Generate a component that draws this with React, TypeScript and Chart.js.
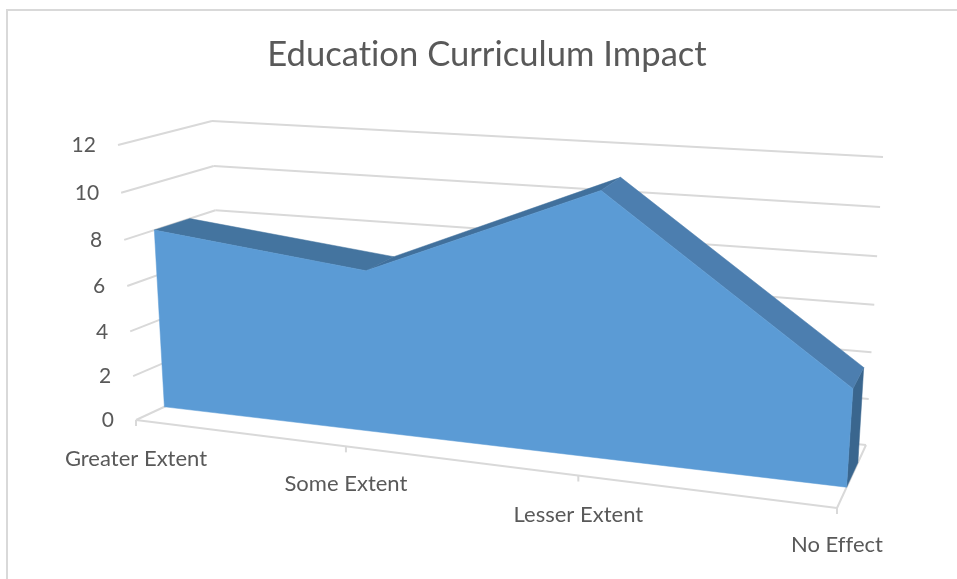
import React, { useEffect, useRef } from "react";
import { Chart, registerables } from "chart.js";

Chart.register(...registerables);

const categories = ["Greater Extent", "Some Extent", "Lesser Extent", "No Effect"];
const curriculumImpact = [8, 7, 11, 4];
const valueTicks = [0, 2, 4, 6, 8, 10, 12];

type Pt = { x: number; y: number };

// Screen corners of the 3D box the chart is projected into.
const BOX = {
  floorFrontLeft: { x: 136, y: 420 },
  floorFrontRight: { x: 837, y: 508 },
  floorBackLeft: { x: 222, y: 380 },
  floorBackRight: { x: 866, y: 445 },
  topFrontLeft: { x: 118, y: 145 },
  topFrontRight: { x: 858, y: 193 },
  topBackLeft: { x: 212, y: 121 },
  topBackRight: { x: 883, y: 157 },
};
const PERSPECTIVE_U = 0.855;
const PERSPECTIVE_V = 0.95;
const AREA_FRONT = 0.33;
const AREA_BACK = 0.72;
const CATEGORY_LABEL_DROP = [39, 38, 39, 37];

const mix = (a: Pt, b: Pt, t: number): Pt => ({ x: a.x + (b.x - a.x) * t, y: a.y + (b.y - a.y) * t });
const warp = (t: number, a: number) => (a * t) / (1 + (a - 1) * t);

// u runs along the categories, v up the value axis, w from front to back (all 0..1).
function project(u: number, v: number, w: number): Pt {
  const s = warp(u, PERSPECTIVE_U);
  const h = warp(v, PERSPECTIVE_V);
  const floor = mix(
    mix(BOX.floorFrontLeft, BOX.floorFrontRight, s),
    mix(BOX.floorBackLeft, BOX.floorBackRight, s),
    w
  );
  const top = mix(
    mix(BOX.topFrontLeft, BOX.topFrontRight, s),
    mix(BOX.topBackLeft, BOX.topBackRight, s),
    w
  );
  return mix(floor, top, h);
}

function polygon(ctx: CanvasRenderingContext2D, pts: Pt[], fill: string) {
  ctx.beginPath();
  pts.forEach((p, i) => (i ? ctx.lineTo(p.x, p.y) : ctx.moveTo(p.x, p.y)));
  ctx.closePath();
  ctx.fillStyle = fill;
  ctx.fill();
  ctx.strokeStyle = fill;
  ctx.lineWidth = 0.5;
  ctx.stroke();
}

function segment(ctx: CanvasRenderingContext2D, a: Pt, b: Pt) {
  ctx.beginPath();
  ctx.moveTo(a.x, a.y);
  ctx.lineTo(b.x, b.y);
  ctx.stroke();
}

const VALUE_FONT = '21px Lato, "Open Sans", sans-serif';
const CATEGORY_FONT = '22px Lato, "Open Sans", sans-serif';
const TOP_FACE_COLORS = ["#44749f", "#41709c", "#4c7eaf"];

// Draws the box walls, the extruded area and the axis text from the chart's own scales.
const area3dPlugin = {
  id: "area3d",
  beforeDraw(chart: any) {
    // A tiny spacing keeps the browser from forming "ti" ligatures in the text.
    chart.ctx.letterSpacing = "0.01px";
  },
  afterDatasetsDraw(chart: any) {
    const { ctx, chartArea, scales } = chart;
    const points = chart.getDatasetMeta(0).data;
    const toU = (px: number) => (px - chartArea.left) / chartArea.width;
    const toV = (py: number) => (chartArea.bottom - py) / chartArea.height;
    const baseV = toV(scales.y.getPixelForValue(0));

    ctx.save();

    // Frame of the chart: left and top edges
    ctx.strokeStyle = "#d9d9d9";
    ctx.lineWidth = 2;
    ctx.beginPath();
    ctx.moveTo(7, 579);
    ctx.lineTo(7, 10);
    ctx.lineTo(957, 10);
    ctx.stroke();

    // Gridlines on the side and back walls
    ctx.lineWidth = 2;
    ctx.fillStyle = "#595959";
    ctx.font = VALUE_FONT;
    ctx.textAlign = "right";
    ctx.textBaseline = "middle";
    valueTicks.forEach((tick) => {
      const v = toV(scales.y.getPixelForValue(tick));
      const frontLeft = project(0, v, 0);
      const backLeft = project(0, v, 1);
      const backRight = project(1, v, 1);
      segment(ctx, frontLeft, backLeft);
      segment(ctx, backLeft, backRight);
      ctx.fillText(String(tick), frontLeft.x - 22, frontLeft.y + 0.5);
    });

    // Floor outline with the category ticks and labels
    segment(ctx, project(0, baseV, 0), project(1, baseV, 0));
    segment(ctx, project(1, baseV, 0), project(1, baseV, 1));
    ctx.font = CATEGORY_FONT;
    ctx.textAlign = "center";
    categories.forEach((label, i) => {
      const base = project(toU(points[i].x), baseV, 0);
      segment(ctx, base, { x: base.x, y: base.y + 6 });
      ctx.fillText(label, base.x, base.y + CATEGORY_LABEL_DROP[i]);
    });

    // Extruded area: top faces, end cap, then the front face
    const front = points.map((p: any) => project(toU(p.x), toV(p.y), AREA_FRONT));
    const back = points.map((p: any) => project(toU(p.x), toV(p.y), AREA_BACK));
    const last = points.length - 1;
    const lastU = toU(points[last].x);
    const firstU = toU(points[0].x);
    polygon(
      ctx,
      [front[last], back[last], project(lastU, baseV, AREA_BACK), project(lastU, baseV, AREA_FRONT)],
      "#3a668e"
    );
    for (let i = 0; i < last; i++) {
      polygon(ctx, [front[i], back[i], back[i + 1], front[i + 1]], TOP_FACE_COLORS[i]);
    }
    polygon(
      ctx,
      [project(firstU, baseV, AREA_FRONT), ...front, project(lastU, baseV, AREA_FRONT)],
      "#5b9bd5"
    );

    ctx.restore();
  },
};

export default function App() {
  const canvasRef = useRef<HTMLCanvasElement | null>(null);

  useEffect(() => {
    document.body.style.margin = "0";
    const chart = new Chart(canvasRef.current as HTMLCanvasElement, {
      type: "line",
      data: {
        labels: categories,
        datasets: [
          {
            label: "Education Curriculum Impact",
            data: curriculumImpact,
            showLine: false,
            pointRadius: 0,
            backgroundColor: "#5b9bd5",
          },
        ],
      },
      options: {
        responsive: false,
        animation: false,
        layout: { padding: { left: 17 } },
        plugins: {
          legend: { display: false },
          tooltip: { enabled: false },
          title: {
            display: true,
            fullSize: false,
            text: "Education Curriculum Impact",
            color: "#595959",
            font: { family: 'Lato, "Open Sans", sans-serif', size: 34.6, weight: "normal" },
            padding: { top: 34, bottom: 10 },
          },
        },
        scales: {
          x: { display: false, offset: false },
          y: { display: false, min: 0, max: 12 },
        },
      },
      plugins: [area3dPlugin],
    });
    return () => chart.destroy();
  }, []);

  return (
    <div style={{ width: 957, height: 579, overflow: "hidden" }}>
      <canvas ref={canvasRef} width={957} height={579} style={{ display: "block" }} />
    </div>
  );
}
